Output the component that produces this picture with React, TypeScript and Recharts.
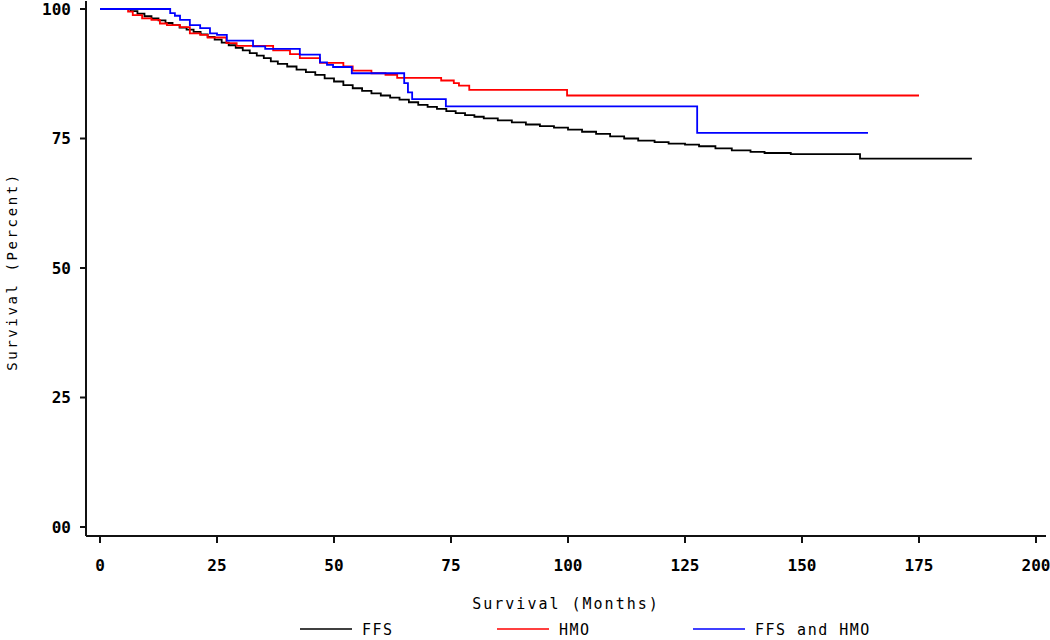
import React from "react"
import { Legend, Line, LineChart, XAxis, YAxis } from "recharts"

// Kaplan-Meier survival estimates (months, percent surviving)
const ffs: [number, number][] = [
  [0, 100], [6.5, 99.6], [8, 99.1], [9.5, 98.6], [11, 98.2], [12.5, 97.8], [14, 97.3],
  [15.5, 96.9], [17, 96.4], [18.5, 96.0], [20, 95.6], [21.5, 95.1], [23, 94.6], [24.5, 94.1],
  [26, 93.5], [27.5, 93.0], [29, 92.5], [30.5, 92.0], [32, 91.5], [33.5, 91.0], [35, 90.5],
  [36.5, 89.9], [38, 89.4], [40, 88.9], [42, 88.3], [44, 87.8], [46, 87.3], [48, 86.6],
  [50, 86.0], [52, 85.3], [54, 84.7], [56, 84.2], [58, 83.7], [60, 83.3], [62, 82.9],
  [64, 82.5], [66, 82.0], [68, 81.5], [70, 81.1], [72, 80.7], [74, 80.3], [76, 79.9],
  [78, 79.5], [80, 79.2], [82, 78.9], [85, 78.5], [88, 78.1], [91, 77.7], [94, 77.4],
  [97, 77.1], [100, 76.7], [103, 76.3], [106, 75.9], [109, 75.4], [112, 75.0], [115, 74.6],
  [118.5, 74.3], [121.5, 74.0], [125, 73.8], [128, 73.5], [131.5, 73.1], [135, 72.7],
  [139, 72.4], [142, 72.2], [147.6, 72.0], [162.4, 71.1], [186.3, 71.1],
]

const hmo: [number, number][] = [
  [0, 100], [6, 99.5], [7, 98.8], [9, 98.2], [11, 97.9], [12.8, 97.2], [14.3, 96.9],
  [17.1, 96.5], [19.2, 95.3], [21.4, 95.0], [23, 94.5], [27, 93.4], [29.2, 92.9], [37, 92.0],
  [40.6, 91.3], [42.7, 90.5], [47, 89.6], [52, 88.9], [54, 88.1], [58, 87.6], [61, 87.3],
  [63.5, 86.7], [72.9, 86.2], [75.6, 85.7], [76.7, 85.2], [78.9, 84.4], [99.8, 83.3], [175, 83.3],
]

const both: [number, number][] = [
  [0, 100], [15, 99.2], [16, 98.7], [17.1, 97.9], [19.2, 96.9], [21.4, 96.3], [23.5, 95.3],
  [25, 95.0], [27.1, 93.9], [32.7, 92.8], [35.3, 92.3], [42.7, 91.2], [47, 89.7], [48.5, 89.2],
  [49.8, 88.8], [53.8, 87.6], [65, 85.7], [65.8, 83.9], [66.7, 82.6], [73.9, 81.2],
  [127.6, 76.1], [164.1, 76.1],
]

const xTicks = [0, 25, 50, 75, 100, 125, 150, 175, 200]
const yTicks = [0, 25, 50, 75, 100]

const series = [
  { name: "FFS", color: "#000000", points: ffs },
  { name: "HMO", color: "#ff0000", points: hmo },
  { name: "FFS and HMO", color: "#0000ff", points: both },
]

const FONT = "'DejaVu Sans Mono', monospace"
const tickStyle = { fill: "#000", fontSize: 16, fontWeight: "bold", fontFamily: FONT }
const axisStroke = { stroke: "#111", strokeWidth: 2 }

function YLabel({ viewBox }: any) {
  const cy = viewBox.y + viewBox.height / 2 + 3
  return (
    <text
      x={12}
      y={cy}
      transform={`rotate(-90 12 ${cy})`}
      textAnchor="middle"
      dominantBaseline="central"
      fontFamily={FONT}
      fontSize={14}
      letterSpacing={2.6}
      fill="#000"
    >
      Survival (Percent)
    </text>
  )
}

function LegendRow() {
  const slots = [300, 497, 693]
  return (
    <div style={{ position: "relative", height: 22, fontFamily: FONT, fontSize: 15 }}>
      {series.map((s, i) => (
        <div key={s.name} style={{ position: "absolute", left: slots[i], top: 0, height: 22 }}>
          <svg width={54} height={22} style={{ position: "absolute", left: 0, top: 0 }}>
            <line x1={0} x2={52} y1={11} y2={11} stroke={s.color} strokeWidth={1.5} />
          </svg>
          <span style={{ position: "absolute", left: 62, top: 3, whiteSpace: "nowrap", letterSpacing: 1.5 }}>
            {s.name}
          </span>
        </div>
      ))}
    </div>
  )
}

export default function App() {
  return (
    <div style={{ position: "absolute", left: 0, top: 0, background: "#fff" }}>
      <LineChart width={1050} height={640} margin={{ top: 1, right: 4, bottom: 0, left: 0 }}>
        <XAxis
          type="number"
          dataKey="t"
          domain={[0, 200]}
          ticks={xTicks}
          padding={{ left: 14, right: 10 }}
          height={82}
          tickSize={7}
          tickMargin={17}
          tick={tickStyle}
          axisLine={axisStroke}
          tickLine={axisStroke}
          label={{
            value: "Survival (Months)",
            position: "insideBottom",
            offset: 9,
            fill: "#000",
            fontFamily: FONT,
            fontSize: 15,
            letterSpacing: 2,
          }}
        />
        <XAxis xAxisId="top" orientation="top" type="number" domain={[0, 200]} height={0} tick={false} tickLine={false} axisLine={axisStroke} />
        <YAxis
          type="number"
          domain={[0, 100]}
          ticks={yTicks}
          padding={{ top: 8, bottom: 9 }}
          width={86}
          tickSize={6}
          tickMargin={9}
          tick={tickStyle}
          tickFormatter={(v: number) => (v === 0 ? "00" : String(v))}
          axisLine={axisStroke}
          tickLine={axisStroke}
          label={<YLabel />}
        />
        <YAxis yAxisId="right" orientation="right" type="number" domain={[0, 100]} width={0} tick={false} tickLine={false} axisLine={axisStroke} />
        <Legend verticalAlign="bottom" content={() => <LegendRow />} wrapperStyle={{ height: 22 }} />
        {series.map((s) => (
          <Line
            key={s.name}
            name={s.name}
            data={s.points.map(([t, v]) => ({ t, s: v }))}
            dataKey="s"
            type="stepAfter"
            stroke={s.color}
            strokeWidth={1.8}
            dot={false}
            activeDot={false}
            isAnimationActive={false}
          />
        ))}
      </LineChart>
    </div>
  )
}
